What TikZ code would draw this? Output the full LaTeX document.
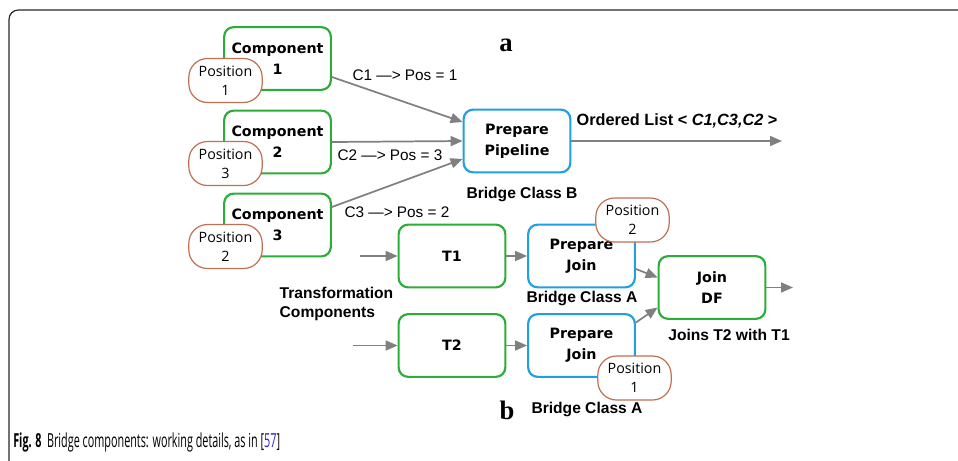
\documentclass[tikz,border=0pt]{standalone}
\usepackage{fontspec}
\usepackage{graphicx}
\usepackage{xcolor}
\usetikzlibrary{arrows.meta,positioning,calc}

\setmainfont{Liberation Sans}
\newfontfamily\boxfont{DejaVu Sans}
\newfontfamily\posfont{Open Sans}
\newfontfamily\letterfont{Liberation Serif}
\newfontfamily\capfont{Open Sans}

\definecolor{boxgreen}{RGB}{44,172,56}
\definecolor{boxblue}{RGB}{32,160,226}
\definecolor{posbrown}{RGB}{192,112,82}
\definecolor{arrowgray}{RGB}{128,128,128}
\definecolor{citeblue}{RGB}{40,40,210}

\begin{document}
\begin{tikzpicture}[
    x=0.75pt, y=-0.75pt,
    comp/.style={rectangle, draw=boxgreen, line width=1.6pt, rounded corners=7pt, minimum width=80pt, minimum height=47pt, align=center, font=\boxfont\bfseries\fontsize{10.7}{15.5}\selectfont},
    bridge/.style={comp, draw=boxblue},
    posoval/.style={rectangle, draw=posbrown, line width=0.9pt, fill=white, rounded corners=14pt, minimum width=55pt, minimum height=33pt, inner sep=1pt, align=center, font=\posfont\fontsize{10.7}{14.5}\selectfont},
    lbl/.style={font=\fontsize{11.7}{14}\selectfont\bfseries, align=left},
    edgelbl/.style={font=\fontsize{11.5}{13}\selectfont},
    letter/.style={font=\letterfont\bfseries\fontsize{20}{22}\selectfont},
    arrow/.style={-{Triangle[length=9pt,width=7.5pt]}, draw=arrowgray, line width=1.3pt}
]
\useasboundingbox (0,0) rectangle (958,461);

% Frame
\draw[black!85, line width=0.9pt, rounded corners=7pt] (958,10) -- (9,10) -- (9,461);

% Part a
\node[comp] (comp1) at (277.5,58.5) {Component\\1};
\node[comp] (comp2) at (277.5,142) {Component\\2};
\node[comp] (comp3) at (277.5,225) {Component\\3};
\node[posoval] (pos1) at (225.5,80.5) {Position\\1};
\node[posoval] (pos3) at (225.5,163.5) {Position\\3};
\node[posoval] (pos2) at (225.5,246.5) {Position\\2};

\node[bridge] (pipe) at (517,141) {Prepare\\Pipeline};
\node[lbl] (bridgeB) at (522,194) {Bridge Class B};
\node[letter] (parta) at (506,45) {a};
\coordinate (out1) at (782,141);

\node[edgelbl] (lblC1) at (405,75) {C1 —> Pos = 1};
\node[edgelbl] (lblC2) at (390,155) {C2 —> Pos = 3};
\node[edgelbl] (lblC3) at (397,212) {C3 —> Pos = 2};
\node[lbl] (ordered) at (677,121) {\fontsize{12.2}{14}\selectfont Ordered List < \textit{C1,C3,C2} >};

\draw[arrow] ($(comp1.east)+(0,18.5)$) -- ($(pipe.west)+(0,-19)$);
\draw[arrow] (comp2.east) -- (pipe.west);
\draw[arrow] ($(comp3.east)+(0,-18)$) -- ($(pipe.west)+(0,18)$);
\draw[arrow] (pipe.east) -- (out1);

% Part b
\node[comp] (t1) at (452,256) {T1};
\node[comp] (t2) at (452,345.5) {T2};
\node[bridge] (pj1) at (581.5,256) {Prepare\\Join};
\node[bridge] (pj2) at (581.5,345.5) {Prepare\\Join};
\node[comp] (joindf) at (712,287.5) {Join\\DF};
\node[posoval] (posA) at (632.5,220) {Position\\2};
\node[posoval] (posB) at (634.5,378) {Position\\1};

\node[lbl] (bridgeA1) at (582,298) {Bridge Class A};
\node[lbl] (bridgeA2) at (587,409) {Bridge Class A};
\node[lbl] (joins) at (729,335) {Joins T2 with T1};
\node[lbl, anchor=west] (trans) at (275,304) {Transformation\\Components};
\node[letter] (partb) at (507,410) {b};

\coordinate (in1) at (360,256);
\coordinate (in2) at (353,345.5);
\coordinate (out2) at (793,287.5);

\draw[arrow] (in1) -- (t1);
\draw[arrow] (in2) -- (t2);
\draw[arrow] (t1) -- (pj1);
\draw[arrow] (t2) -- (pj2);
\draw[arrow] ($(pj1.east)+(0,13)$) -- ($(joindf.west)+(0,-10)$);
\draw[arrow] ($(pj2.east)+(0,-23)$) -- ($(joindf.west)+(0,20)$);
\draw[arrow] (joindf) -- (out2);

% Caption
\node[anchor=west, inner sep=0pt] (caption) at (13,442) {\capfont\fontsize{14.5}{16}\selectfont\scalebox{0.56}[1]{\textbf{Fig. 8}\enspace Bridge components: working details, as in [\textcolor{citeblue}{57}]}};

\end{tikzpicture}
\end{document}
